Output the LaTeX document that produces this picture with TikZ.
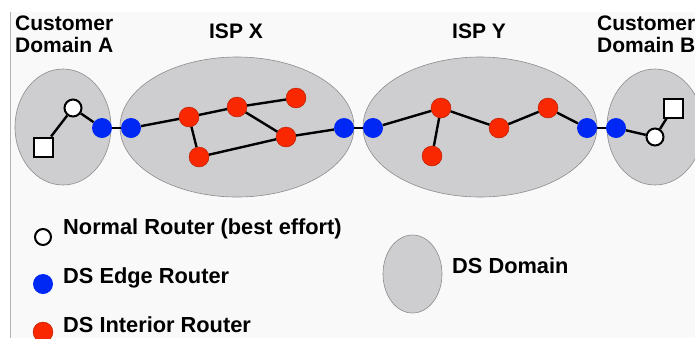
\documentclass[tikz,border=0pt]{standalone}
\usepackage{fontspec}
\setmainfont{Liberation Sans}
\usetikzlibrary{shapes.geometric}
\definecolor{bgc}{RGB}{249,249,249}
\definecolor{domfill}{RGB}{206,206,208}
\definecolor{domline}{RGB}{140,140,140}
\definecolor{dsred}{RGB}{250,40,0}
\definecolor{dsblue}{RGB}{0,40,245}
\tikzset{
  dombox/.style={ellipse, fill=domfill, draw=domline, line width=0.6pt, inner sep=0pt},
  rtr/.style={circle, minimum size=20pt, inner sep=0pt},
  normal/.style={rtr, minimum size=17pt, fill=white, draw=black, line width=2pt},
  edgertr/.style={rtr, fill=dsblue},
  interior/.style={rtr, fill=dsred, draw=dsred!70!black, line width=0.4pt},
  host/.style={rectangle, minimum size=19pt, inner sep=0pt, fill=white, draw=black, line width=2pt},
  link/.style={line width=2.4pt, black},
  lbl/.style={font=\fontsize{21}{22}\selectfont\bfseries, inner sep=0pt, align=left},
  leglbl/.style={lbl, font=\fontsize{21.8}{22}\selectfont\bfseries},
}
\begin{document}
\begin{tikzpicture}[x=1pt, y=-1pt]
\useasboundingbox (0,0) rectangle (695,338);
\clip (0,0) rectangle (695,338);
\fill[bgc] (10,12) rectangle (695,338);
\draw[gray!60, line width=0.8pt] (10.5,12) -- (10.5,338);

% domains
\node[dombox, minimum width=96pt, minimum height=116pt] (domA) at (63,127) {};
\node[dombox, minimum width=234pt, minimum height=140pt] (ispX) at (237,127) {};
\node[dombox, minimum width=234pt, minimum height=140pt] (ispY) at (480,127) {};
\node[dombox, minimum width=96pt, minimum height=116pt] (domB) at (655,127) {};

% titles
\node[lbl, anchor=base west] (tA) at (15,52) {Customer\\Domain A};
\node[lbl, anchor=base] (tX) at (236,38) {ISP X};
\node[lbl, anchor=base] (tY) at (479,38) {ISP Y};
\node[lbl, anchor=base west] (tB) at (597,52) {Customer\\Domain B};

% routers
\node[host] (hA) at (43,147) {};
\node[normal] (nA) at (73,108) {};
\node[edgertr] (eA) at (102,128) {};
\node[edgertr] (eX1) at (131,128) {};
\node[interior] (x1) at (189,117) {};
\node[interior] (x2) at (199,157) {};
\node[interior] (x3) at (237,107) {};
\node[interior] (x4) at (296,98) {};
\node[interior] (x5) at (286,137) {};
\node[edgertr] (eX2) at (344,128) {};
\node[edgertr] (eY1) at (373,128) {};
\node[interior] (y1) at (441,108) {};
\node[interior] (y2) at (432,156) {};
\node[interior] (y3) at (499,128) {};
\node[interior] (y4) at (548,108) {};
\node[edgertr] (eY2) at (587,128) {};
\node[edgertr] (eB) at (616,128) {};
\node[normal] (nB) at (655,137) {};
\node[host] (hB) at (673,108) {};

% links
\draw[link] (hA) -- (nA);
\draw[link] (nA) -- (eA);
\draw[link] (eA) -- (eX1);
\draw[link] (eX1) -- (x1);
\draw[link] (x1) -- (x3);
\draw[link] (x3) -- (x4);
\draw[link] (x1) -- (x2);
\draw[link] (x3) -- (x5);
\draw[link] (x2) -- (x5);
\draw[link] (x5) -- (eX2);
\draw[link] (eX2) -- (eY1);
\draw[link] (eY1) -- (y1);
\draw[link] (y1) -- (y2);
\draw[link] (y1) -- (y3);
\draw[link] (y3) -- (y4);
\draw[link] (y4) -- (eY2);
\draw[link] (eY2) -- (eB);
\draw[link] (eB) -- (nB);
\draw[link] (nB) -- (hB);

% legend
\node[normal, minimum size=16pt] (lgN) at (43,237) {};
\node[edgertr] (lgE) at (43,284) {};
\node[interior] (lgI) at (43,332) {};
\node[leglbl, anchor=base west] (lgNt) at (63,234) {Normal Router (best effort)};
\node[leglbl, anchor=base west] (lgEt) at (63,283) {DS Edge Router};
\node[leglbl, anchor=base west] (lgIt) at (63,332) {DS Interior Router};
\node[dombox, minimum width=59pt, minimum height=78pt] (lgD) at (412.5,274) {};
\node[leglbl, anchor=base west] (lgDt) at (452,273) {DS Domain};
\end{tikzpicture}
\end{document}
